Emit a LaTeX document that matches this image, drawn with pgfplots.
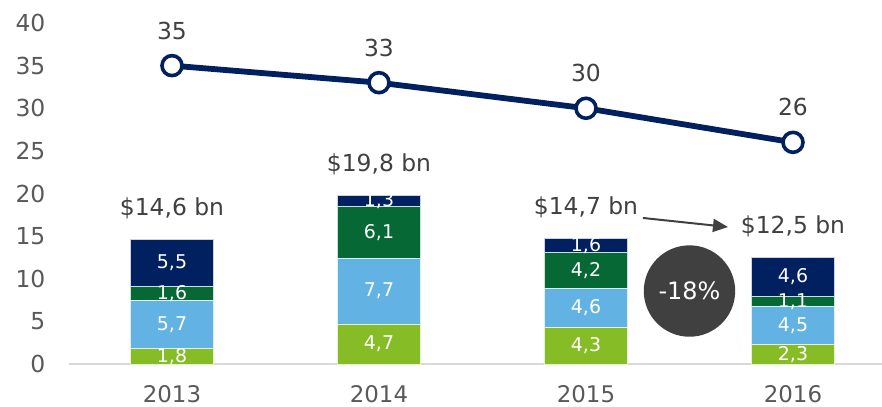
\documentclass[border=0pt]{standalone}
\usepackage{fontspec}
\setmainfont{DejaVu Sans}
\usepackage{pgfplots}
\pgfplotsset{compat=1.18}
\usepackage{pgfplotstable}
\usetikzlibrary{arrows.meta}
\definecolor{navy}{RGB}{0,32,96}
\definecolor{dgreen}{RGB}{6,104,52}
\definecolor{lblue}{RGB}{98,179,228}
\definecolor{lime}{RGB}{134,188,37}
\definecolor{txtgray}{RGB}{89,89,89}
\definecolor{lblgray}{RGB}{64,64,64}
\definecolor{circgray}{RGB}{64,64,64}
\definecolor{axgray}{RGB}{217,217,217}
\pgfkeys{/pgf/number format/assume math mode=true}

\pgfplotstableread{
x a b c d total
0 1.8 5.7 1.6 5.5 14.6
1 4.7 7.7 6.1 1.3 19.8
2 4.3 4.6 4.2 1.6 14.7
3 2.3 4.5 1.1 4.6 12.5
}\bars
\pgfplotstableread{
x v
0 35
1 33
2 30
3 26
}\line

\pgfplotsset{
  common/.style={
    scale only axis, width=813.5bp, height=341bp,
    xmin=-0.5, xmax=3.43, ymin=0, ymax=40,
    clip=false,
  },
  seg/.style={fill=#1, draw=white!80!#1, line width=0.6pt},
  seglbl/.style={draw=none, mark=none, nodes near coords, point meta=explicit,
    every node near coord/.append style={anchor=center, text=white,
      font=\fontsize{19}{19}\selectfont,
      /pgf/number format/.cd, use comma, fixed, fixed zerofill, precision=1}},
}

\begin{document}
\begin{tikzpicture}
\begin{axis}[common,
  ybar stacked, bar width=0.4,
  axis x line*=bottom, axis y line=none,
  axis line style={axgray, line width=1.5pt},
  xtick={0,1,2,3}, xticklabels={2013,2014,2015,2016},
  ytick=\empty,
  major tick length=0pt,
  xticklabel style={inner sep=0pt, yshift=-21bp, text=txtgray, font=\fontsize{23}{23}\selectfont},
]
\coordinate (O) at (rel axis cs:0,0);
\addplot+[seg=lime] table[x=x, y=a] {\bars};
\addplot+[seg=lblue] table[x=x, y=b] {\bars};
\addplot+[seg=dgreen] table[x=x, y=c] {\bars};
\addplot+[seg=navy] table[x=x, y=d] {\bars};
\end{axis}

\begin{axis}[common,
  axis x line=none, axis y line*=left, y axis line style={draw=none},
  ytick={0,5,...,40},
  major tick length=0pt,
  yticklabel style={inner sep=0pt, xshift=-23bp, text=txtgray, font=\fontsize{23.5}{23.5}\selectfont},
]
% segment labels at segment centres
\addplot[seglbl] table[x=x, y expr=\thisrow{a}/2, meta=a] {\bars};
\addplot[seglbl] table[x=x, y expr=\thisrow{a}+\thisrow{b}/2, meta=b] {\bars};
\addplot[seglbl] table[x=x, y expr=\thisrow{a}+\thisrow{b}+\thisrow{c}/2, meta=c] {\bars};
\addplot[seglbl] table[x=x, y expr=\thisrow{a}+\thisrow{b}+\thisrow{c}+\thisrow{d}/2, meta=d] {\bars};
% totals
\addplot[draw=none, mark=none,
  nodes near coords={\$\pgfmathprintnumber{\pgfplotspointmeta}~bn},
  point meta=explicit,
  every node near coord/.append style={anchor=center, yshift=31bp, text=lblgray,
    font=\fontsize{23.5}{23.5}\selectfont,
    /pgf/number format/.cd, use comma, fixed, fixed zerofill, precision=1},
] table[x=x, y=total, meta=total] {\bars};
% line
\addplot[navy, line width=5.8bp, mark=*,
  mark options={fill=white, draw=navy, line width=3.6bp},
  mark size=10bp,
  nodes near coords, point meta=explicit,
  every node near coord/.append style={anchor=center, yshift=35bp, text=lblgray,
    font=\fontsize{23.5}{23.5}\selectfont},
] table[x=x, y=v, meta=v] {\line};
% annotations
\fill[circgray] (axis cs:2.5,8.56) circle (45.7bp);
\node[text=white, font=\fontsize{24}{24}\selectfont] at (axis cs:2.5,8.56) {-18\%};
\draw[circgray, line width=2pt, -{Triangle[length=15bp,width=13bp]}] (axis cs:2.275,17.13) -- (axis cs:2.686,16.07);
\end{axis}

\pgfresetboundingbox
\path[use as bounding box] ([shift={(-68.5bp,-43bp)}]O) rectangle ([shift={(813.5bp,364bp)}]O);
\end{tikzpicture}
\end{document}
